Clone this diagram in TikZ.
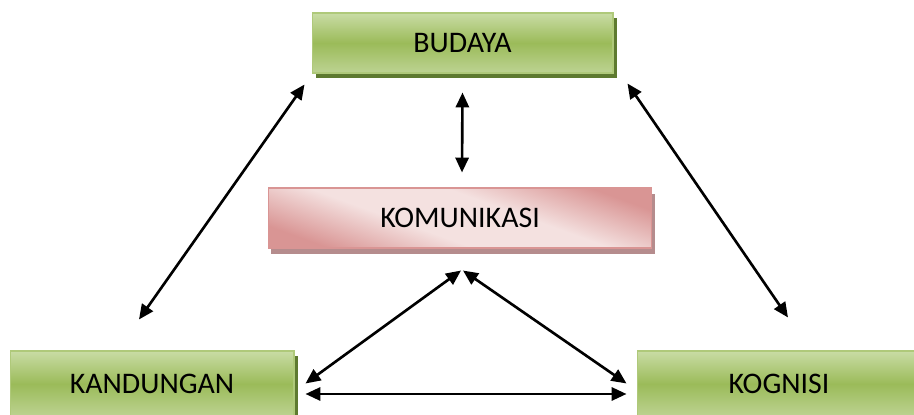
\documentclass[tikz,border=0pt]{standalone}
\usepackage{fontspec}
\setmainfont{Carlito}
\usetikzlibrary{arrows.meta,shadows}
\definecolor{greenlight}{HTML}{C9DCA5}
\definecolor{greenmid}{HTML}{9BBB59}
\definecolor{greenlow}{HTML}{BDD393}
\definecolor{greenshadow}{HTML}{5E7A30}
\definecolor{pinklight}{HTML}{F4E1E0}
\definecolor{pinkdark}{HTML}{D99594}
\definecolor{pinkshadow}{HTML}{B58C8D}
\pgfdeclareverticalshading{komshade}{100bp}{color(0bp)=(pinkdark);
  color(25bp)=(pinkdark); color(42bp)=(pinklight); color(58bp)=(pinklight);
  color(75bp)=(pinkdark); color(100bp)=(pinkdark)}
\begin{document}
\begin{tikzpicture}[x=0.02cm, y=-0.02cm,
  greenbox/.style={rectangle, draw=greenmid!80!white, line width=0.6pt,
    top color=greenlight, bottom color=greenlow, middle color=greenmid,
    drop shadow={shadow xshift=0.08cm, shadow yshift=-0.1cm, fill=greenshadow, opacity=1},
    minimum height=1.2cm, font=\fontsize{17}{20}\selectfont},
  pinkbox/.style={rectangle, draw=pinkdark, line width=0.6pt,
    shading=komshade, shading angle=-20,
    drop shadow={shadow xshift=0.06cm, shadow yshift=-0.12cm, fill=pinkshadow, opacity=1},
    minimum height=1.2cm, font=\fontsize{17}{20}\selectfont},
  link/.style={line width=1.5pt, {Triangle[length=8.5pt,width=7.5pt]}-{Triangle[length=8.5pt,width=7.5pt]}}]
\useasboundingbox (0,0) rectangle (914,415);
\node[greenbox, minimum width=6.02cm] (budaya) at (462.5,43){BUDAYA};
\node[pinkbox, minimum width=7.68cm] (komunikasi) at (460,218){KOMUNIKASI};
\node[greenbox, minimum width=5.68cm, minimum height=1.32cm] (kandungan) at (152,384){KANDUNGAN};
\node[greenbox, minimum width=5.68cm, minimum height=1.32cm] (kognisi) at (779,384){KOGNISI};
\draw[link]([shift={(-7,11)}]budaya.south west) -- ([shift={(-13,-31)}]kandungan.north);
\draw[link]([shift={(0,19)}]budaya.south) -- ([shift={(2,-15)}]komunikasi.north);
\draw[link]([shift={(14,10)}]budaya.south east) -- ([shift={(9,-33)}]kognisi.north);
\draw[link]([shift={(1,22)}]komunikasi.south) -- ([shift={(11,33)}]kandungan.north east);
\draw[link]([shift={(3,22)}]komunikasi.south) -- ([shift={(-10,33)}]kognisi.north west);
\draw[link]([shift={(11,10)}]kandungan.east) -- ([shift={(-10,10)}]kognisi.west);
\end{tikzpicture}
\end{document}
